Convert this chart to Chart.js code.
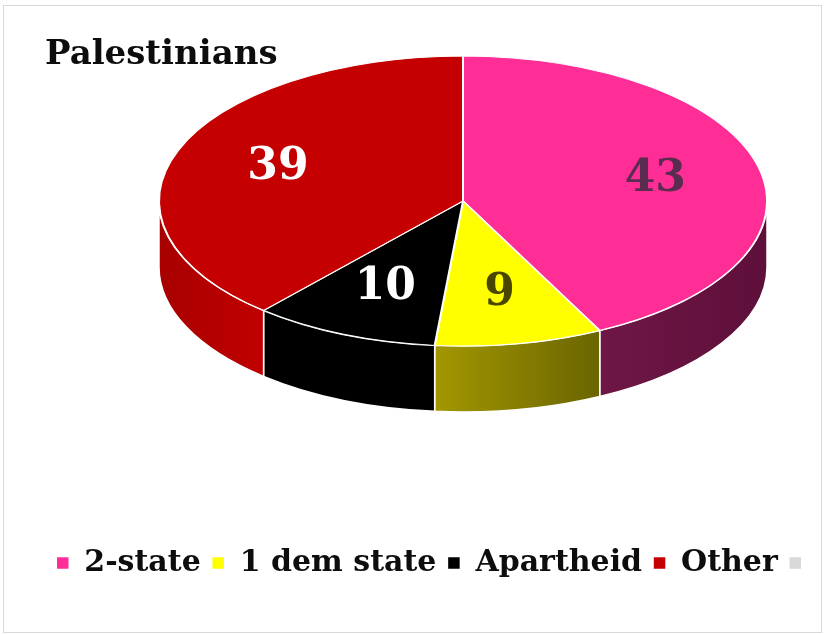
<!DOCTYPE html>
<html>
<head>
<meta charset="utf-8">
<script src="https://cdn.jsdelivr.net/npm/chart.js@4.4.1/dist/chart.umd.min.js"></script>
<style>
  html, body { margin: 0; padding: 0; background: #fff; }
  #wrap { position: relative; width: 828px; height: 634px; }
  #frame { position: absolute; left: 3px; top: 5px; width: 819px; height: 628px; border: 1px solid #d9d9d9; box-sizing: border-box; pointer-events: none; }
  canvas { position: absolute; left: 0; top: 0; }
</style>
</head>
<body>
<div id="wrap">
  <canvas id="pieChart" width="828" height="634"></canvas>
  <div id="frame"></div>
</div>
<script>
// data
const categories = ['2-state', '1 dem state', 'Apartheid', 'Other', ''];
const values = [43, 9, 10, 39, 0];
const topColors = ['#FF2D96', '#FFFF00', '#000000', '#C40000', '#D9D9D9'];
const sideColors = [
    ['#6E1746', '#5E0F3A'],
    ['#A39700', '#6A6500'],
    ['#000000', '#000000'],
    ['#A80000', '#C00000'],
    ['#BFBFBF', '#BFBFBF']
];
const labelColors = ['#5A2C50', '#4A4600', '#FFFFFF', '#FFFFFF', '#000000'];

// where the tilted pie sits on the page
const tilt = { cx: 463, cy: 201, rx: 304, ry: 145, depth: 66, labelAt: 0.65 };
const serif = 'DejaVu Serif';

const pie3d = {
    id: 'pie3d',
    beforeDatasetsDraw(chart) {
        const ctx = chart.ctx;
        const arcs = chart.getDatasetMeta(0).data;
        const first = arcs[0];
        ctx.save();

        // side walls: only the front half of the rim is visible
        arcs.forEach((arc, i) => {
            const a = Math.max(arc.startAngle, 0);
            const b = Math.min(arc.endAngle, Math.PI);
            if (b <= a) return;
            const xa = tilt.cx + tilt.rx * Math.cos(a);
            const xb = tilt.cx + tilt.rx * Math.cos(b);
            const grad = ctx.createLinearGradient(Math.min(xa, xb), 0, Math.max(xa, xb), 0);
            grad.addColorStop(0, sideColors[i][0]);
            grad.addColorStop(1, sideColors[i][1]);
            ctx.beginPath();
            ctx.ellipse(tilt.cx, tilt.cy, tilt.rx, tilt.ry, 0, a, b);
            ctx.ellipse(tilt.cx, tilt.cy + tilt.depth, tilt.rx, tilt.ry, 0, b, a, true);
            ctx.closePath();
            ctx.fillStyle = grad;
            ctx.fill();
            ctx.strokeStyle = '#FFFFFF';
            ctx.lineWidth = 1.5;
            ctx.stroke();
        });

        // squash the flat pie into the top face
        ctx.translate(tilt.cx, tilt.cy);
        ctx.scale(tilt.rx / first.outerRadius, tilt.ry / first.outerRadius);
        ctx.translate(-first.x, -first.y);
    },
    afterDatasetsDraw(chart) {
        const ctx = chart.ctx;
        ctx.restore();

        const arcs = chart.getDatasetMeta(0).data;
        ctx.save();
        ctx.font = 'bold 44px "' + serif + '"';
        ctx.textAlign = 'center';
        ctx.textBaseline = 'middle';
        arcs.forEach((arc, i) => {
            if (!values[i]) return;
            const mid = (arc.startAngle + arc.endAngle) / 2;
            const x = tilt.cx + tilt.rx * tilt.labelAt * Math.cos(mid);
            const y = tilt.cy + tilt.ry * tilt.labelAt * Math.sin(mid);
            ctx.fillStyle = labelColors[i];
            ctx.fillText(String(values[i]), x, y);
        });
        ctx.restore();
    }
};

new Chart(document.getElementById('pieChart'), {
    type: 'pie',
    data: {
        labels: categories,
        datasets: [{
            data: values,
            backgroundColor: topColors,
            borderColor: '#FFFFFF',
            borderWidth: 1.5,
            clip: false
        }]
    },
    options: {
        responsive: false,
        devicePixelRatio: 1,
        animation: false,
        events: [],
        layout: {
            padding: { top: 5, left: 45, right: 0, bottom: 46 }
        },
        plugins: {
            title: {
                display: true,
                text: 'Palestinians',
                align: 'start',
                color: '#0D0D0D',
                font: { family: serif, size: 34, weight: 'bold' },
                padding: { top: 30, bottom: 0 }
            },
            legend: {
                position: 'bottom',
                align: 'center',
                labels: {
                    boxWidth: 13,
                    boxHeight: 13,
                    padding: 11,
                    color: '#0D0D0D',
                    font: { family: serif, size: 30, weight: 'bold' }
                }
            },
            tooltip: { enabled: false }
        }
    },
    plugins: [pie3d]
});
</script>
</body>
</html>
